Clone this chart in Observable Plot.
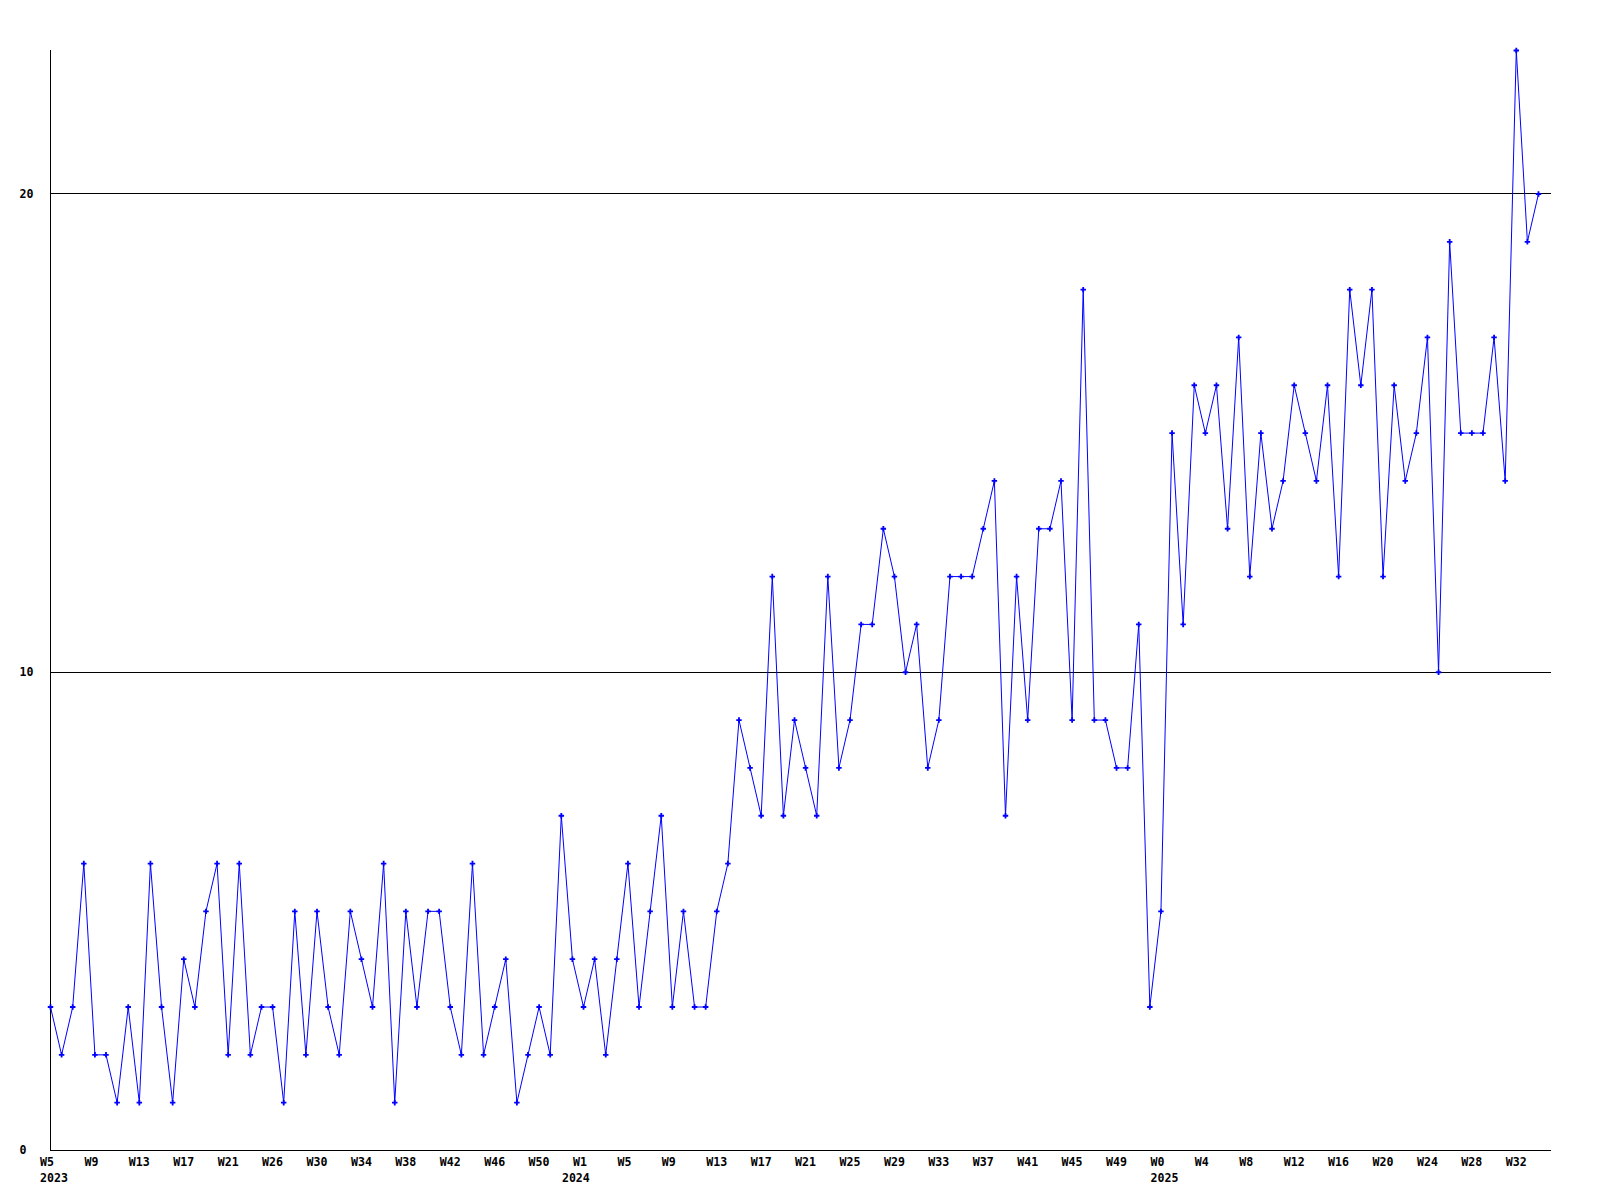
<!DOCTYPE html>
<html>
<head>
<meta charset="utf-8">
<script src="https://cdn.jsdelivr.net/npm/d3@7"></script>
<script src="https://cdn.jsdelivr.net/npm/@observablehq/plot@0.6"></script>
<style>
  html, body { margin: 0; padding: 0; background: #ffffff; }
  #chart svg { display: block; }
</style>
</head>
<body>
<div id="chart"></div>
<script>
// Weekly values, one per week (index 0 = 2023 W5)
const values = [
  3, 2, 3, 6, 2, 2, 1, 3, 1, 6,
  3, 1, 4, 3, 5, 6, 2, 6, 2, 3,
  3, 1, 5, 2, 5, 3, 2, 5, 4, 3,
  6, 1, 5, 3, 5, 5, 3, 2, 6, 2,
  3, 4, 1, 2, 3, 2, 7, 4, 3, 4,
  2, 4, 6, 3, 5, 7, 3, 5, 3, 3,
  5, 6, 9, 8, 7, 12, 7, 9, 8, 7,
  12, 8, 9, 11, 11, 13, 12, 10, 11, 8,
  9, 12, 12, 12, 13, 14, 7, 12, 9, 13,
  13, 14, 9, 18, 9, 9, 8, 8, 11, 3,
  5, 15, 11, 16, 15, 16, 13, 17, 12, 15,
  13, 14, 16, 15, 14, 16, 12, 18, 16, 18,
  12, 16, 14, 15, 17, 10, 19, 15, 15, 15,
  17, 14, 23, 19, 20
];

// Week tick labels (one every 4 weeks)
const weekLabels = [
  "W5", "W9", "W13", "W17", "W21", "W26", "W30", "W34", "W38", "W42", "W46", "W50",
  "W1", "W5", "W9", "W13", "W17", "W21", "W25", "W29", "W33", "W37", "W41", "W45", "W49",
  "W0", "W4", "W8", "W12", "W16", "W20", "W24", "W28", "W32"
];
// Year labels and the week (index) where each year starts
const yearLabels = ["2023", "2024", "2025"];
const yearStart = [0, 47, 100];
const yTicks = [0, 10, 20];
const gridValues = [0, 10, 20];

const tickStep = 4;
const tickPos = weekLabels.map((_, k) => k * tickStep);
const labelAt = new Map(tickPos.map((p, k) => [p, weekLabels[k]]));

const data = values.map((v, i) => ({ i, v }));
const years = yearLabels.map((t, k) => ({ t, i: yearStart[k] }));

const chart = Plot.plot({
  width: 1600,
  height: 1200,
  marginLeft: 50,
  marginRight: 62,
  marginTop: 50,
  marginBottom: 50,
  style: {
    fontFamily: "'DejaVu Sans Mono', monospace",
    fontSize: "11.6px",
    fontWeight: "bold",
    background: "#ffffff",
    color: "#000000"
  },
  x: { domain: [0, values.length - 1], label: null },
  y: { domain: [0, 23], label: null },
  marks: [
    Plot.ruleY(gridValues, { stroke: "#000000", strokeWidth: 1, insetRight: -13, shapeRendering: "crispEdges" }),
    Plot.ruleX([0], { stroke: "#000000", strokeWidth: 1, shapeRendering: "crispEdges" }),
    Plot.axisY({
      ticks: yTicks,
      tickSize: 0,
      tickPadding: 31,
      textAnchor: "start",
      fill: "#000000",
      label: null
    }),
    Plot.axisX({
      ticks: tickPos,
      tickFormat: (d) => labelAt.get(d) ?? "",
      tickSize: 0,
      tickPadding: 7,
      textAnchor: "start",
      dx: -10.5,
      fill: "#000000",
      label: null
    }),
    Plot.text(years, {
      x: "i",
      text: "t",
      frameAnchor: "bottom",
      textAnchor: "start",
      dx: -10.5,
      dy: 31,
      fill: "#000000"
    }),
    Plot.line(data, { x: "i", y: "v", stroke: "#0000ff", strokeWidth: 1 }),
    Plot.dot(data, { x: "i", y: "v", symbol: "cross", r: 2.3, fill: "#0000ff", stroke: "none" })
  ]
});

document.getElementById("chart").appendChild(chart);
</script>
</body>
</html>
